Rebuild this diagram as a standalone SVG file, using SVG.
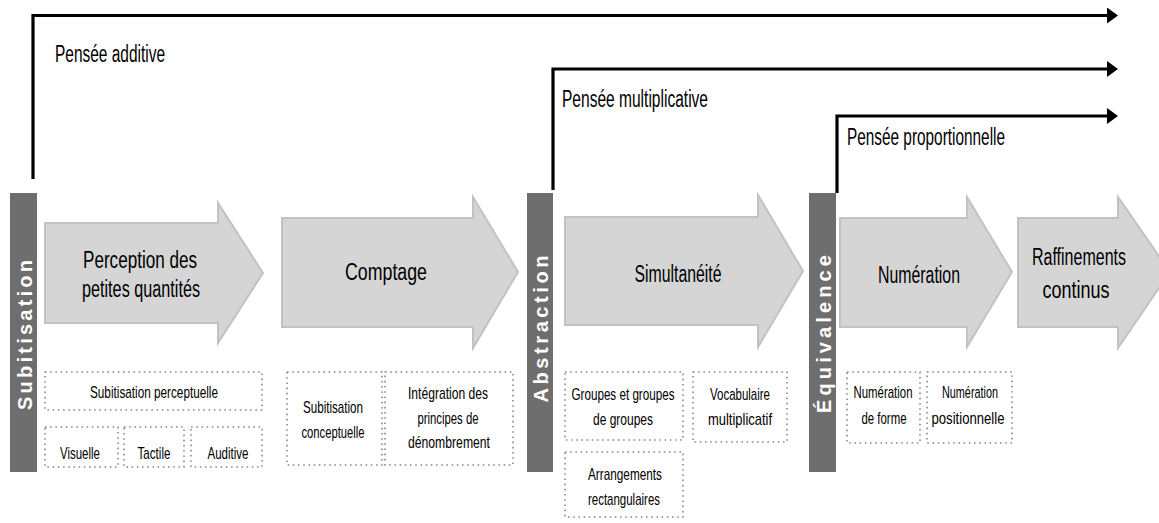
<svg xmlns="http://www.w3.org/2000/svg" width="1159" height="523" viewBox="0 0 1159 523">
<style>
text{font-family:"Liberation Sans Narrow","Liberation Sans",Arial,sans-serif;fill:#000}
.top{font-size:23px}
.arw{font-size:23px;text-anchor:middle}
.box{font-size:17px;text-anchor:middle}
.bar{fill:#6e6e6e}
.bt{font-family:"Liberation Sans",Arial,sans-serif;font-weight:bold;font-size:20px;fill:#fff;text-anchor:middle}
.arrow{fill:#d5d5d5;stroke:#c2c2c2;stroke-width:2}
.dot{fill:none;stroke:#8a8a8a;stroke-width:1.6;stroke-dasharray:1.6 3.6}
.conn{fill:none;stroke:#000;stroke-width:3.2}
</style>
<defs>
<marker id="ah" markerUnits="userSpaceOnUse" markerWidth="12" markerHeight="18" refX="0" refY="8" orient="auto" viewBox="0 0 12 18">
<path d="M0,0 L11,8 L0,16 Z" fill="#000"/>
</marker>
</defs>

<g id="connectors">
<path class="conn" d="M33,179 V15.5 H1107" marker-end="url(#ah)"/>
<path class="conn" d="M553,190 V69 H1107" marker-end="url(#ah)"/>
<path class="conn" d="M837,193 V116 H1107" marker-end="url(#ah)"/>
</g>

<g id="labels-thinking">
<text class="top" x="55" y="62" textLength="110" lengthAdjust="spacingAndGlyphs">Pensée additive</text>
<text class="top" x="562" y="107" textLength="146" lengthAdjust="spacingAndGlyphs">Pensée multiplicative</text>
<text class="top" x="847" y="145" textLength="158" lengthAdjust="spacingAndGlyphs">Pensée proportionnelle</text>
</g>

<g id="bar-subitisation">
<rect class="bar" x="10" y="193" width="27" height="279"/>
<text class="bt" transform="translate(32,335) rotate(-90)" textLength="150" lengthAdjust="spacing">Subitisation</text>
</g>
<g id="bar-abstraction">
<rect class="bar" x="527" y="193" width="26" height="279"/>
<text class="bt" transform="translate(548,329) rotate(-90)" textLength="147" lengthAdjust="spacing">Abstraction</text>
</g>
<g id="bar-equivalence">
<rect class="bar" x="809" y="193" width="27" height="279"/>
<text class="bt" transform="translate(831,334) rotate(-90)" textLength="158" lengthAdjust="spacing">Équivalence</text>
</g>

<g id="arrow-perception">
<path class="arrow" d="M45,223 H218 V203 L263,273 L218,343 V323 H45 Z"/>
<text class="arw" x="140" y="268" textLength="114" lengthAdjust="spacingAndGlyphs">Perception des</text>
<text class="arw" x="141" y="297" textLength="118" lengthAdjust="spacingAndGlyphs">petites quantités</text>
</g>
<g id="arrow-comptage">
<path class="arrow" d="M282,218 H473 V197 L518,272 L473,348 V327 H282 Z"/>
<text class="arw" x="386" y="280" textLength="82" lengthAdjust="spacingAndGlyphs">Comptage</text>
</g>
<g id="arrow-simultaneite">
<path class="arrow" d="M565,217 H758 V195 L803,271 L758,347 V325 H565 Z"/>
<text class="arw" x="678" y="282" textLength="87" lengthAdjust="spacingAndGlyphs">Simultanéité</text>
</g>
<g id="arrow-numeration">
<path class="arrow" d="M840,218 H967 V197 L1012,272 L967,347 V327 H840 Z"/>
<text class="arw" x="919" y="283" textLength="82" lengthAdjust="spacingAndGlyphs">Numération</text>
</g>
<g id="arrow-raffinements">
<path class="arrow" d="M1018,218 H1118 V197 L1170,272 L1118,348 V327 H1018 Z"/>
<text class="arw" x="1079" y="265" textLength="94" lengthAdjust="spacingAndGlyphs">Raffinements</text>
<text class="arw" x="1076" y="298" textLength="67" lengthAdjust="spacingAndGlyphs">continus</text>
</g>

<g id="box-subitisation-perceptuelle">
<rect class="dot" x="45" y="372" width="217" height="38"/>
<text class="box" x="154" y="398" textLength="128" lengthAdjust="spacingAndGlyphs">Subitisation perceptuelle</text>
</g>
<g id="box-visuelle">
<rect class="dot" x="45" y="427" width="73" height="40"/>
<text class="box" x="80" y="459" textLength="40" lengthAdjust="spacingAndGlyphs">Visuelle</text>
</g>
<g id="box-tactile">
<rect class="dot" x="124" y="427" width="60" height="40"/>
<text class="box" x="154" y="459" textLength="33" lengthAdjust="spacingAndGlyphs">Tactile</text>
</g>
<g id="box-auditive">
<rect class="dot" x="191" y="427" width="71" height="40"/>
<text class="box" x="228" y="459" textLength="41" lengthAdjust="spacingAndGlyphs">Auditive</text>
</g>

<g id="box-subitisation-conceptuelle">
<rect class="dot" x="287" y="372" width="95" height="93"/>
<text class="box" x="333" y="413" textLength="60" lengthAdjust="spacingAndGlyphs">Subitisation</text>
<text class="box" x="333" y="438" textLength="63" lengthAdjust="spacingAndGlyphs">conceptuelle</text>
</g>
<g id="box-integration">
<rect class="dot" x="385" y="372" width="128" height="93"/>
<text class="box" x="448" y="399" textLength="80" lengthAdjust="spacingAndGlyphs">Intégration des</text>
<text class="box" x="448" y="424" textLength="61" lengthAdjust="spacingAndGlyphs">principes de</text>
<text class="box" x="449" y="448" textLength="82" lengthAdjust="spacingAndGlyphs">dénombrement</text>
</g>

<g id="box-groupes">
<rect class="dot" x="565" y="372" width="118" height="68"/>
<text class="box" x="623" y="400" textLength="103" lengthAdjust="spacingAndGlyphs">Groupes et groupes</text>
<text class="box" x="623" y="425" textLength="60" lengthAdjust="spacingAndGlyphs">de groupes</text>
</g>
<g id="box-vocabulaire">
<rect class="dot" x="693" y="372" width="94" height="70"/>
<text class="box" x="740" y="400" textLength="60" lengthAdjust="spacingAndGlyphs">Vocabulaire</text>
<text class="box" x="740" y="425" textLength="64" lengthAdjust="spacingAndGlyphs">multiplicatif</text>
</g>
<g id="box-arrangements">
<rect class="dot" x="565" y="452" width="118" height="65"/>
<text class="box" x="625" y="480" textLength="74" lengthAdjust="spacingAndGlyphs">Arrangements</text>
<text class="box" x="624" y="505" textLength="72" lengthAdjust="spacingAndGlyphs">rectangulaires</text>
</g>

<g id="box-numeration-forme">
<rect class="dot" x="847" y="372" width="73" height="71"/>
<text class="box" x="883" y="398" textLength="59" lengthAdjust="spacingAndGlyphs">Numération</text>
<text class="box" x="884" y="424" textLength="45" lengthAdjust="spacingAndGlyphs">de forme</text>
</g>
<g id="box-numeration-positionnelle">
<rect class="dot" x="927" y="372" width="85" height="71"/>
<text class="box" x="970" y="398" textLength="56" lengthAdjust="spacingAndGlyphs">Numération</text>
<text class="box" x="968" y="424" textLength="73" lengthAdjust="spacingAndGlyphs">positionnelle</text>
</g>
</svg>
